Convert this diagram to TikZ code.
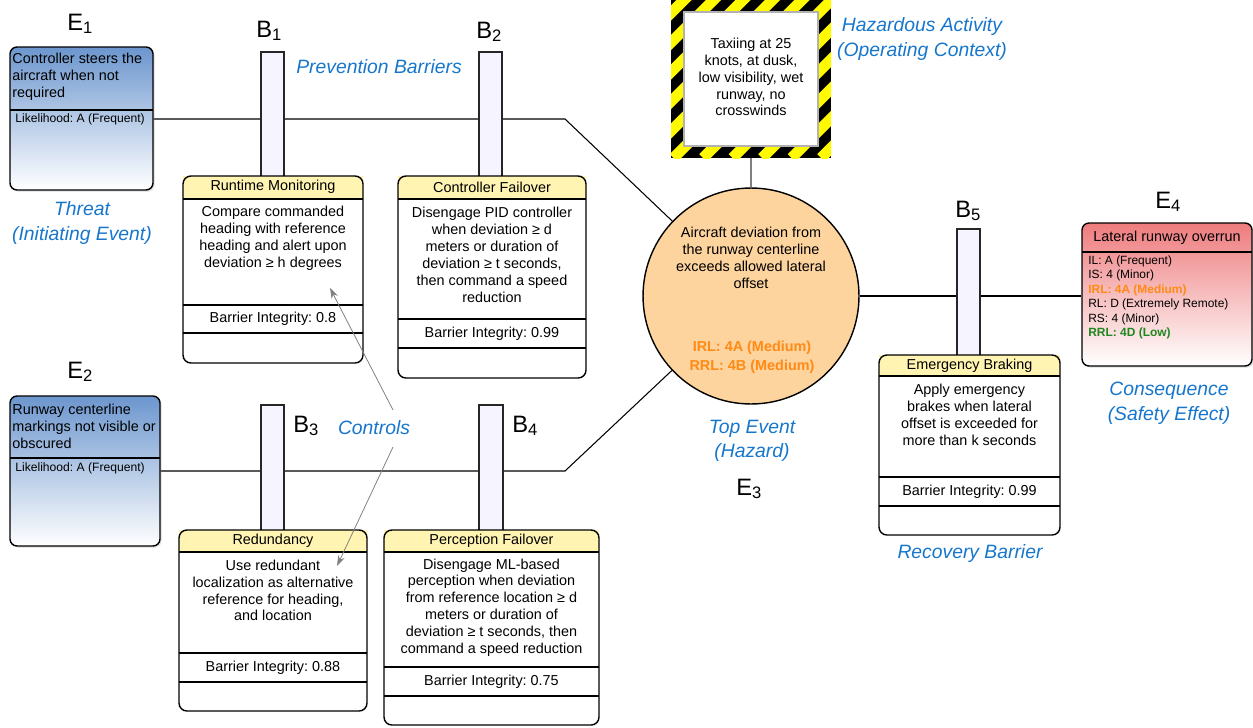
\documentclass[tikz,border=0pt]{standalone}
\usepackage{fontspec}
\setmainfont{Liberation Sans}
\usepackage{xcolor}
\usepackage{tikz}
\usetikzlibrary{arrows.meta, positioning, fit, calc, backgrounds, shadows}

\definecolor{threatblue}{RGB}{108,150,206}
\definecolor{effectred}{RGB}{238,124,126}
\definecolor{headyellow}{RGB}{255,244,178}
\definecolor{pillarfill}{RGB}{245,244,255}
\definecolor{hazardfill}{RGB}{253,211,158}
\definecolor{rolecolor}{RGB}{22,118,204}
\definecolor{riskorange}{RGB}{255,138,20}
\definecolor{riskgreen}{RGB}{30,135,30}
\definecolor{stripeyellow}{RGB}{255,250,0}

\newcommand{\boxfont}{\fontsize{8.2}{9.6}\selectfont}
\newcommand{\smallfont}{\fontsize{6.9}{8.2}\selectfont}
\frenchspacing

\begin{document}
\begin{tikzpicture}[
    x=0.02cm, y=-0.02cm,
    >={Stealth[length=6pt, width=4pt]},
    font=\boxfont,
    tag/.style={font=\fontsize{13.5}{15}\selectfont, inner sep=0pt, anchor=base west},
    role/.style={text=rolecolor, font=\fontsize{11}{14}\selectfont\itshape, align=center, inner sep=0pt},
    event box/.style={
        draw, rounded corners=4pt, line width=0.8pt, inner sep=0pt,
        bottom color=white,
        drop shadow={opacity=0.2, shadow xshift=1pt, shadow yshift=-1pt}
    },
    threat box/.style={event box, top color=threatblue, bottom color=white},
    effect box/.style={event box, top color=effectred, bottom color=white},
    frame/.style={draw, line width=0.8pt, rounded corners=4.5pt, inner sep=0pt},
    rule/.style={line width=0.8pt},
    pillar/.style={draw=black!85, fill=pillarfill, line width=0.7pt, inner sep=0pt},
    link/.style={line width=0.6pt},
    stem/.style={draw=gray, line width=1.2pt},
    control link/.style={->, draw=gray, line width=0.45pt},
    stripe/.style={draw=stripeyellow, line width=6.2pt},
    txt/.style={align=center, inner sep=0pt},
    note/.style={align=left, inner sep=0pt, anchor=west}
]
    \useasboundingbox (0,0) rectangle (1253,727);

    % Threats
    \node[threat box, fit={(10,47) (153,190)}] (e1) {};
    \draw[rule] (10,110) -- (153,110);
    \node[note] (e1 text) at (12,77) {Controller steers the\\aircraft when not\\required};
    \node[note, font=\smallfont] (e1 like) at (15,119) {Likelihood: A (Frequent)};

    \node[threat box, fit={(10,396) (160,546)}] (e2) {};
    \draw[rule] (10,458) -- (160,458);
    \node[note] (e2 text) at (12,426) {Runway centerline\\markings not visible or\\obscured};
    \node[note, font=\smallfont] (e2 like) at (15,468) {Likelihood: A (Frequent)};

    % Consequence
    \node[effect box, fit={(1082,223) (1252,366)}] (e4) {};
    \draw[rule] (1082,252) -- (1252,252);
    \node[txt] (e4 head) at (1167,238) {Lateral runway overrun};
    \node[note, font=\fontsize{6.8}{8.2}\selectfont] (e4 text) at (1088,297.5) {IL: A (Frequent)\\IS: 4 (Minor)\\
        \textcolor{riskorange}{\bfseries IRL: 4A (Medium)}\\RL: D (Extremely Remote)\\RS: 4 (Minor)\\
        \textcolor{riskgreen}{\bfseries RRL: 4D (Low)}};

    % Hazardous activity
    \begin{scope}
        \clip (671,0) rectangle (831,158);
        \fill (671,0) rectangle (831,158);
        \foreach \s in {467,496.5,...,850}
            \draw[stripe] (\s,158) -- ++(170,-170);
    \end{scope}
    \node[fit={(671,0) (831,158)}, inner sep=0pt] (actframe) {};
    \node[draw=gray!60, fill=white, line width=0.6pt, inner sep=0pt, fit={(684,12) (818,146)}] (act) {};
    \node[txt] (act text) at (751,77) {Taxiing at 25\\knots, at dusk,\\low visibility, wet\\runway, no\\crosswinds};

    % Top event
    \node[circle, draw, fill=hazardfill, line width=0.8pt, minimum size=4.32cm, inner sep=0pt] (top) at (751,296) {};
    \node[txt] (top text) at (751,258) {Aircraft deviation from\\the runway centerline\\exceeds allowed lateral\\offset};
    \node[txt, text=riskorange, font=\boxfont\bfseries] (top risk) at (752,357.5) {IRL: 4A (Medium)\\[1.2pt]RRL: 4B (Medium)};

    % Barrier pillars
    \node[pillar, fit={(261,52) (284,177)}] (b1) {};
    \node[pillar, fit={(479,52) (502,177)}] (b2) {};
    \node[pillar, fit={(261,405) (284,531)}] (b3) {};
    \node[pillar, fit={(479,405) (503,531)}] (b4) {};
    \node[pillar, fit={(957,229) (980,356)}] (b5) {};

    % Barrier boxes: name/left/right/top/header/rule/rule/bottom
    \foreach \n/\l/\r/\t/\h/\a/\b/\u in {rm/183/363/176/199/305/333/363, cf/398/586/176/199/319/348/378,
        rd/179/367/530/552/653/682/711, pf/384/599/530/552/667/696/725, eb/879/1060/355/376/477/506/535}{
        \fill[headyellow] (\l,\t) rectangle (\r,\h);
        \node[frame, fit={(\l,\t) (\r,\u)}] (\n) {};
        \draw[rule] (\l,\h) -- (\r,\h) (\l,\a) -- (\r,\a) (\l,\b) -- (\r,\b);
    }

    \node[txt] (rm head) at (273,187) {Runtime Monitoring};
    \node[txt] (rm text) at (273,238.5) {Compare commanded\\heading with reference\\heading and alert upon\\deviation ≥ h degrees};
    \node[txt] (rm int) at (273,319) {Barrier Integrity: 0.8};

    \node[txt] (cf head) at (492,187) {Controller Failover};
    \node[txt] (cf text) at (492,255) {Disengage PID controller\\when deviation ≥ d\\meters or duration of\\deviation ≥ t seconds,\\then command a speed\\reduction};
    \node[txt] (cf int) at (492,333.5) {Barrier Integrity: 0.99};

    \node[txt] (rd head) at (273,541) {Redundancy};
    \node[txt] (rd text) at (273,590.5) {Use redundant\\localization as alternative\\reference for heading,\\and location};
    \node[txt] (rd int) at (273,667.5) {Barrier Integrity: 0.88};

    \node[txt] (pf head) at (491.5,541) {Perception Failover};
    \node[txt] (pf text) at (491.5,607.5) {Disengage ML-based\\perception when deviation\\from reference location ≥ d\\meters or duration of\\deviation ≥ t seconds, then\\command a speed reduction};
    \node[txt] (pf int) at (491.5,681.5) {Barrier Integrity: 0.75};

    \node[txt] (eb head) at (969.5,365.5) {Emergency Braking};
    \node[txt] (eb text) at (969.5,415) {Apply emergency\\brakes when lateral\\offset is exceeded for\\more than k seconds};
    \node[txt] (eb int) at (969.5,491.5) {Barrier Integrity: 0.99};

    % Tags
    \node[tag] (e1 tag) at (67,30) {E\textsubscript{1}};
    \node[tag] (e2 tag) at (67,378) {E\textsubscript{2}};
    \node[tag] (e3 tag) at (736,495) {E\textsubscript{3}};
    \node[tag] (e4 tag) at (1155,208) {E\textsubscript{4}};
    \node[tag] (b1 tag) at (256,37) {B\textsubscript{1}};
    \node[tag] (b2 tag) at (476,38) {B\textsubscript{2}};
    \node[tag] (b3 tag) at (293,432) {B\textsubscript{3}};
    \node[tag] (b4 tag) at (512,432) {B\textsubscript{4}};
    \node[tag] (b5 tag) at (955,217) {B\textsubscript{5}};

    % Roles
    \node[role] (prevention) at (379,67) {Prevention Barriers};
    \node[role] (threat) at (82,223) {Threat\\(Initiating Event)};
    \node[role] (activity) at (922,39) {Hazardous Activity\\(Operating Context)};
    \node[role] (hazard) at (752,441) {Top Event\\(Hazard)};
    \node[role] (effect) at (1169,403) {Consequence\\(Safety Effect)};
    \node[role] (recovery) at (970,553) {Recovery Barrier};
    \node[role] (ctl) at (374,428) {Controls};

    % Controls pointers
    \coordinate (ctl up) at (393,410);
    \coordinate (ctl down) at (393,447);
    \coordinate (rm aim) at (330,288);
    \coordinate (rd aim) at (337,566);
    \draw[control link] (ctl up) -- (rm aim);
    \draw[control link] (ctl down) -- (rd aim);

    % Connectors
    \coordinate (k1) at (565,119);
    \coordinate (k2) at (565,471);
    \begin{scope}[on background layer]
        \draw[link] (e1.east |- k1) -- (k1) -- (top);
        \draw[link] (e2.east |- k2) -- (k2) -- (top);
        \draw[link] (top.east) -- (top.east -| e4.west);
        \draw[stem] (actframe.south) -- (top.north);
    \end{scope}

\end{tikzpicture}
\end{document}
